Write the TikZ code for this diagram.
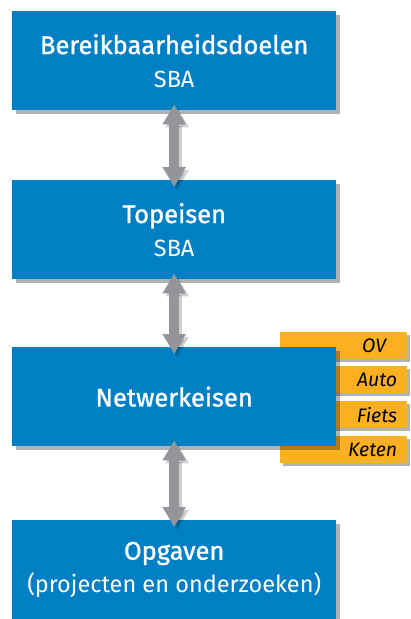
\documentclass[tikz,border=0pt]{standalone}
\usepackage{fontspec}
\setmainfont{Fira Sans}
\newfontfamily\medfont[FakeBold=1.2]{Fira Sans}
\usetikzlibrary{shadows,arrows.meta}
\definecolor{sbablue}{HTML}{0080C4}
\definecolor{sbaorange}{HTML}{FBB021}
\definecolor{sbagray}{HTML}{939598}
\newcommand{\ttl}[1]{{\medfont\fontsize{25.5}{33}\selectfont #1}}
\newcommand{\sbt}[1]{{\fontsize{23.5}{33}\selectfont #1}}
\begin{document}
\begin{tikzpicture}[x=1pt,y=-1pt,
  bluebox/.style={fill=sbablue, text=white, align=center, inner sep=0pt,
    minimum width=324pt, minimum height=99pt, anchor=north west,
    font=\fontsize{23.5}{33}\selectfont,
    drop shadow={shadow xshift=4pt, shadow yshift=-4pt, opacity=0.3, fill=black}},
  tab/.style={fill=sbaorange, text=black, anchor=north west, inner ysep=0pt, inner xsep=10pt,
    text width=107pt, align=right, minimum height=27pt,
    font=\fontsize{19.5}{20}\selectfont\itshape,
    drop shadow={shadow xshift=3pt, shadow yshift=-3pt, opacity=0.3, fill=black}},
  dblarrow/.style={draw=sbagray, line width=10pt, {Triangle[width=22pt,length=20pt]}-{Triangle[width=22pt,length=20pt]}},
  arrowshadow/.style={draw=black, opacity=0.18, line width=10pt, {Triangle[width=22pt,length=20pt]}-{Triangle[width=22pt,length=20pt]}}
]
\useasboundingbox (0,0) rectangle (410,619);
\fill[white] (0,0) rectangle (410,619);

\node[tab] (ov) at (280,332) {OV\hspace*{11pt}};
\node[tab] (auto) at (280,366) {Auto};
\node[tab] (fiets) at (280,401) {Fiets};
\node[tab] (keten) at (280,436) {Keten};

\node[bluebox] (b1) at (12,11) {\ttl{Bereikbaarheidsdoelen}\\\sbt{SBA}};
\node[bluebox] (b2) at (12,180) {\ttl{Topeisen}\\\sbt{SBA}};
\node[bluebox] (b3) at (12,347) {\ttl{Netwerkeisen}};
\node[bluebox] (b4) at (12,520) {\ttl{Opgaven}\\\sbt{(projecten en onderzoeken)}};

\foreach \a/\b in {b1/b2,b2/b3,b3/b4}{
  \draw[arrowshadow] ([xshift=3pt,yshift=3pt]\a.south) -- ([xshift=3pt,yshift=-10pt]\b.north);
  \draw[dblarrow] ([yshift=6pt]\a.south) -- ([yshift=-7pt]\b.north);
}
\end{tikzpicture}
\end{document}
